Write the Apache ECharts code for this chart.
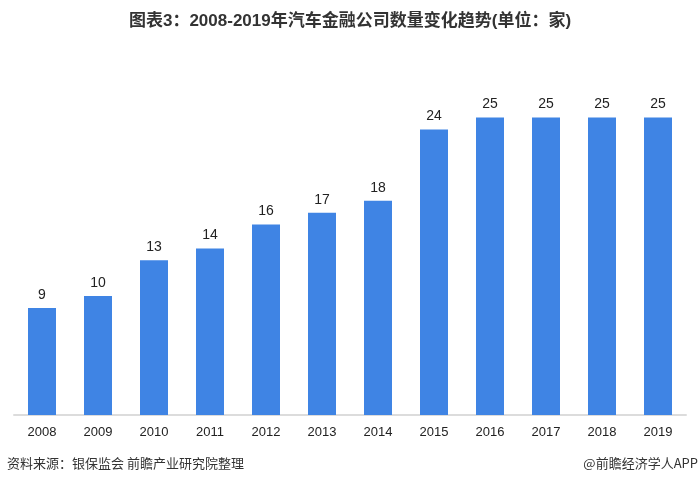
<!DOCTYPE html>
<html><head><meta charset="utf-8">
<script src="https://cdn.jsdelivr.net/npm/echarts@6/dist/echarts.min.js"></script>
<style>html,body{margin:0;padding:0;background:#fff;}#c{width:700px;height:486px;}</style>
</head><body><div id="c"></div>
<script>
const years = ['2008','2009','2010','2011','2012','2013','2014','2015','2016','2017','2018','2019'];
const counts = [9,10,13,14,16,17,18,24,25,25,25,25];
const titleText = '图表3：2008-2019年汽车金融公司数量变化趋势(单位：家)';
const sourceText = '资料来源：银保监会 前瞻产业研究院整理';
const brandText = '@前瞻经济学人APP';

const chart = echarts.init(document.getElementById('c'));
chart.setOption({
  animation:false,
  backgroundColor:'#fff',
  title:{text:titleText,left:'center',top:8,textStyle:{fontSize:17,fontWeight:'bold',color:'#333',fontFamily:'"Liberation Sans","Noto Sans CJK SC",sans-serif'}},
  graphic:[
    {type:'text',left:7,top:457,style:{text:sourceText,fontSize:13,fill:'#333',fontFamily:'"Noto Sans CJK SC",sans-serif'}},
    {type:'text',right:2,top:457,style:{text:brandText,fontSize:13,fill:'#333',fontFamily:'"Noto Sans CJK SC",sans-serif'}}
  ],
  grid:{left:14,right:14,top:58,bottom:71},
  xAxis:{type:'category',data:years,
    axisLine:{lineStyle:{color:'#dcdcdc',width:2}},
    axisTick:{show:false},
    axisLabel:{color:'#222',fontSize:13,margin:11,fontFamily:'"Liberation Sans",Arial,sans-serif'}},
  yAxis:{type:'value',min:0,max:30,show:false,splitLine:{show:false}},
  series:[{type:'bar',data:counts,barWidth:28,
    itemStyle:{color:'#3F84E4'},
    label:{show:true,position:'top',distance:6,color:'#222',fontSize:14,fontFamily:'"Liberation Sans",Arial,sans-serif'}}]
});
</script></body></html>
